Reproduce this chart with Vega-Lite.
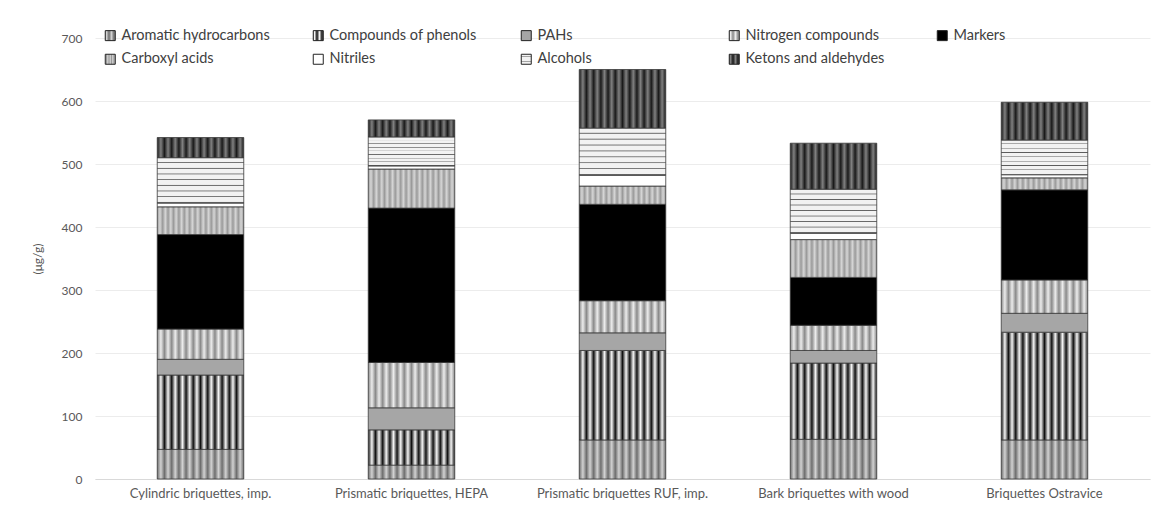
{
  "$schema": "https://vega.github.io/schema/vega-lite/v6.json",
  "width": 1055,
  "height": 441,
  "autosize": {"type": "none"},
  "padding": {"left": 95, "top": 38, "right": 3, "bottom": 36},
  "background": "white",
  "config": {
    "font": "Lato",
    "view": {"stroke": null},
    "axis": {"labelColor": "#595959", "titleColor": "#595959", "labelFont": "Lato", "titleFont": "Lato"}
  },
  "data": {
    "values": [
      {"sample": "Cylindric briquettes, imp.", "group": "Aromatic hydrocarbons", "k": 1, "value": 47},
      {"sample": "Cylindric briquettes, imp.", "group": "Compounds of phenols", "k": 2, "value": 118},
      {"sample": "Cylindric briquettes, imp.", "group": "PAHs", "k": 3, "value": 25},
      {"sample": "Cylindric briquettes, imp.", "group": "Nitrogen compounds", "k": 4, "value": 48},
      {"sample": "Cylindric briquettes, imp.", "group": "Markers", "k": 5, "value": 150},
      {"sample": "Cylindric briquettes, imp.", "group": "Carboxyl acids", "k": 6, "value": 44},
      {"sample": "Cylindric briquettes, imp.", "group": "Nitriles", "k": 7, "value": 6},
      {"sample": "Cylindric briquettes, imp.", "group": "Alcohols", "k": 8, "value": 72},
      {"sample": "Cylindric briquettes, imp.", "group": "Ketons and aldehydes", "k": 9, "value": 32},
      {"sample": "Prismatic briquettes, HEPA", "group": "Aromatic hydrocarbons", "k": 1, "value": 22},
      {"sample": "Prismatic briquettes, HEPA", "group": "Compounds of phenols", "k": 2, "value": 56},
      {"sample": "Prismatic briquettes, HEPA", "group": "PAHs", "k": 3, "value": 35},
      {"sample": "Prismatic briquettes, HEPA", "group": "Nitrogen compounds", "k": 4, "value": 72},
      {"sample": "Prismatic briquettes, HEPA", "group": "Markers", "k": 5, "value": 245},
      {"sample": "Prismatic briquettes, HEPA", "group": "Carboxyl acids", "k": 6, "value": 62},
      {"sample": "Prismatic briquettes, HEPA", "group": "Nitriles", "k": 7, "value": 5},
      {"sample": "Prismatic briquettes, HEPA", "group": "Alcohols", "k": 8, "value": 46},
      {"sample": "Prismatic briquettes, HEPA", "group": "Ketons and aldehydes", "k": 9, "value": 27},
      {"sample": "Prismatic briquettes RUF, imp.", "group": "Aromatic hydrocarbons", "k": 1, "value": 62},
      {"sample": "Prismatic briquettes RUF, imp.", "group": "Compounds of phenols", "k": 2, "value": 142},
      {"sample": "Prismatic briquettes RUF, imp.", "group": "PAHs", "k": 3, "value": 28},
      {"sample": "Prismatic briquettes RUF, imp.", "group": "Nitrogen compounds", "k": 4, "value": 51},
      {"sample": "Prismatic briquettes RUF, imp.", "group": "Markers", "k": 5, "value": 153},
      {"sample": "Prismatic briquettes RUF, imp.", "group": "Carboxyl acids", "k": 6, "value": 29},
      {"sample": "Prismatic briquettes RUF, imp.", "group": "Nitriles", "k": 7, "value": 17},
      {"sample": "Prismatic briquettes RUF, imp.", "group": "Alcohols", "k": 8, "value": 75},
      {"sample": "Prismatic briquettes RUF, imp.", "group": "Ketons and aldehydes", "k": 9, "value": 93},
      {"sample": "Bark briquettes with wood", "group": "Aromatic hydrocarbons", "k": 1, "value": 63},
      {"sample": "Bark briquettes with wood", "group": "Compounds of phenols", "k": 2, "value": 121},
      {"sample": "Bark briquettes with wood", "group": "PAHs", "k": 3, "value": 20},
      {"sample": "Bark briquettes with wood", "group": "Nitrogen compounds", "k": 4, "value": 40},
      {"sample": "Bark briquettes with wood", "group": "Markers", "k": 5, "value": 76},
      {"sample": "Bark briquettes with wood", "group": "Carboxyl acids", "k": 6, "value": 60},
      {"sample": "Bark briquettes with wood", "group": "Nitriles", "k": 7, "value": 10},
      {"sample": "Bark briquettes with wood", "group": "Alcohols", "k": 8, "value": 70},
      {"sample": "Bark briquettes with wood", "group": "Ketons and aldehydes", "k": 9, "value": 73},
      {"sample": "Briquettes Ostravice", "group": "Aromatic hydrocarbons", "k": 1, "value": 62},
      {"sample": "Briquettes Ostravice", "group": "Compounds of phenols", "k": 2, "value": 171},
      {"sample": "Briquettes Ostravice", "group": "PAHs", "k": 3, "value": 30},
      {"sample": "Briquettes Ostravice", "group": "Nitrogen compounds", "k": 4, "value": 53},
      {"sample": "Briquettes Ostravice", "group": "Markers", "k": 5, "value": 143},
      {"sample": "Briquettes Ostravice", "group": "Carboxyl acids", "k": 6, "value": 19},
      {"sample": "Briquettes Ostravice", "group": "Nitriles", "k": 7, "value": 5},
      {"sample": "Briquettes Ostravice", "group": "Alcohols", "k": 8, "value": 55},
      {"sample": "Briquettes Ostravice", "group": "Ketons and aldehydes", "k": 9, "value": 60}
    ]
  },
  "mark": {"type": "bar", "stroke": "#3a3a3a", "strokeWidth": 0.8},
  "encoding": {
    "x": {
      "field": "sample", "type": "nominal", "sort": null,
      "scale": {"paddingInner": 0.59, "paddingOuter": 0.295},
      "axis": {"title": null, "labelAngle": 0, "labelFontSize": 13, "labelPadding": 8, "ticks": false, "domainColor": "#d9d9d9", "domainWidth": 1, "labelLimit": 300}
    },
    "y": {
      "field": "value", "type": "quantitative", "aggregate": "sum",
      "scale": {"domain": [0, 700]},
      "axis": {"title": "(μg/g)", "values": [0, 100, 200, 300, 400, 500, 600, 700], "labelFontSize": 12, "labelPadding": 13, "ticks": false, "domain": false, "gridColor": "#ececec", "titleFontSize": 12, "titleFontWeight": "normal", "titlePadding": 17}
    },
    "order": {"field": "k", "type": "quantitative"},
    "color": {
      "field": "group", "type": "nominal",
      "scale": {
        "domain": ["Aromatic hydrocarbons", "Compounds of phenols", "PAHs", "Nitrogen compounds", "Markers", "Carboxyl acids", "Nitriles", "Alcohols", "Ketons and aldehydes"],
        "range": [
          {"expr": "{gradient:'linear',x1:0,y1:0,x2:1,y2:0,stops:[{offset:0,color:'#6e6e6e'},{offset:0.0417,color:'#d2d2d2'},{offset:0.0833,color:'#6e6e6e'},{offset:0.125,color:'#d2d2d2'},{offset:0.1667,color:'#6e6e6e'},{offset:0.2083,color:'#d2d2d2'},{offset:0.25,color:'#6e6e6e'},{offset:0.2917,color:'#d2d2d2'},{offset:0.3333,color:'#6e6e6e'},{offset:0.375,color:'#d2d2d2'},{offset:0.4167,color:'#6e6e6e'},{offset:0.4583,color:'#d2d2d2'},{offset:0.5,color:'#6e6e6e'},{offset:0.5417,color:'#d2d2d2'},{offset:0.5833,color:'#6e6e6e'},{offset:0.625,color:'#d2d2d2'},{offset:0.6667,color:'#6e6e6e'},{offset:0.7083,color:'#d2d2d2'},{offset:0.75,color:'#6e6e6e'},{offset:0.7917,color:'#d2d2d2'},{offset:0.8333,color:'#6e6e6e'},{offset:0.875,color:'#d2d2d2'},{offset:0.9167,color:'#6e6e6e'},{offset:0.9583,color:'#d2d2d2'},{offset:1,color:'#6e6e6e'}]}"},
          {"expr": "{gradient:'linear',x1:0,y1:0,x2:1,y2:0,stops:[{offset:0,color:'#111111'},{offset:0.0417,color:'#f5f5f5'},{offset:0.0833,color:'#111111'},{offset:0.125,color:'#f5f5f5'},{offset:0.1667,color:'#111111'},{offset:0.2083,color:'#f5f5f5'},{offset:0.25,color:'#111111'},{offset:0.2917,color:'#f5f5f5'},{offset:0.3333,color:'#111111'},{offset:0.375,color:'#f5f5f5'},{offset:0.4167,color:'#111111'},{offset:0.4583,color:'#f5f5f5'},{offset:0.5,color:'#111111'},{offset:0.5417,color:'#f5f5f5'},{offset:0.5833,color:'#111111'},{offset:0.625,color:'#f5f5f5'},{offset:0.6667,color:'#111111'},{offset:0.7083,color:'#f5f5f5'},{offset:0.75,color:'#111111'},{offset:0.7917,color:'#f5f5f5'},{offset:0.8333,color:'#111111'},{offset:0.875,color:'#f5f5f5'},{offset:0.9167,color:'#111111'},{offset:0.9583,color:'#f5f5f5'},{offset:1,color:'#111111'}]}"},
          "#a6a6a6",
          {"expr": "{gradient:'linear',x1:0,y1:0,x2:1,y2:0,stops:[{offset:0,color:'#8a8a8a'},{offset:0.0417,color:'#ececec'},{offset:0.0833,color:'#8a8a8a'},{offset:0.125,color:'#ececec'},{offset:0.1667,color:'#8a8a8a'},{offset:0.2083,color:'#ececec'},{offset:0.25,color:'#8a8a8a'},{offset:0.2917,color:'#ececec'},{offset:0.3333,color:'#8a8a8a'},{offset:0.375,color:'#ececec'},{offset:0.4167,color:'#8a8a8a'},{offset:0.4583,color:'#ececec'},{offset:0.5,color:'#8a8a8a'},{offset:0.5417,color:'#ececec'},{offset:0.5833,color:'#8a8a8a'},{offset:0.625,color:'#ececec'},{offset:0.6667,color:'#8a8a8a'},{offset:0.7083,color:'#ececec'},{offset:0.75,color:'#8a8a8a'},{offset:0.7917,color:'#ececec'},{offset:0.8333,color:'#8a8a8a'},{offset:0.875,color:'#ececec'},{offset:0.9167,color:'#8a8a8a'},{offset:0.9583,color:'#ececec'},{offset:1,color:'#8a8a8a'}]}"},
          "#000000",
          {"expr": "{gradient:'linear',x1:0,y1:0,x2:1,y2:0,stops:[{offset:0,color:'#9a9a9a'},{offset:0.03125,color:'#d6d6d6'},{offset:0.0625,color:'#9a9a9a'},{offset:0.09375,color:'#d6d6d6'},{offset:0.125,color:'#9a9a9a'},{offset:0.15625,color:'#d6d6d6'},{offset:0.1875,color:'#9a9a9a'},{offset:0.21875,color:'#d6d6d6'},{offset:0.25,color:'#9a9a9a'},{offset:0.28125,color:'#d6d6d6'},{offset:0.3125,color:'#9a9a9a'},{offset:0.34375,color:'#d6d6d6'},{offset:0.375,color:'#9a9a9a'},{offset:0.40625,color:'#d6d6d6'},{offset:0.4375,color:'#9a9a9a'},{offset:0.46875,color:'#d6d6d6'},{offset:0.5,color:'#9a9a9a'},{offset:0.53125,color:'#d6d6d6'},{offset:0.5625,color:'#9a9a9a'},{offset:0.59375,color:'#d6d6d6'},{offset:0.625,color:'#9a9a9a'},{offset:0.65625,color:'#d6d6d6'},{offset:0.6875,color:'#9a9a9a'},{offset:0.71875,color:'#d6d6d6'},{offset:0.75,color:'#9a9a9a'},{offset:0.78125,color:'#d6d6d6'},{offset:0.8125,color:'#9a9a9a'},{offset:0.84375,color:'#d6d6d6'},{offset:0.875,color:'#9a9a9a'},{offset:0.90625,color:'#d6d6d6'},{offset:0.9375,color:'#9a9a9a'},{offset:0.96875,color:'#d6d6d6'},{offset:1,color:'#9a9a9a'}]}"},
          "#ffffff",
          {"expr": "{gradient:'linear',x1:0,y1:0,x2:0,y2:1,stops:[{offset:0,color:'#f2f2f2'},{offset:0.09,color:'#f2f2f2'},{offset:0.11,color:'#555555'},{offset:0.125,color:'#f2f2f2'},{offset:0.215,color:'#f2f2f2'},{offset:0.235,color:'#555555'},{offset:0.25,color:'#f2f2f2'},{offset:0.34,color:'#f2f2f2'},{offset:0.36,color:'#555555'},{offset:0.375,color:'#f2f2f2'},{offset:0.465,color:'#f2f2f2'},{offset:0.485,color:'#555555'},{offset:0.5,color:'#f2f2f2'},{offset:0.59,color:'#f2f2f2'},{offset:0.61,color:'#555555'},{offset:0.625,color:'#f2f2f2'},{offset:0.715,color:'#f2f2f2'},{offset:0.735,color:'#555555'},{offset:0.75,color:'#f2f2f2'},{offset:0.84,color:'#f2f2f2'},{offset:0.86,color:'#555555'},{offset:0.875,color:'#f2f2f2'},{offset:0.965,color:'#f2f2f2'},{offset:0.985,color:'#555555'},{offset:1,color:'#f2f2f2'}]}"},
          {"expr": "{gradient:'linear',x1:0,y1:0,x2:1,y2:0,stops:[{offset:0,color:'#1a1a1a'},{offset:0.0417,color:'#808080'},{offset:0.0833,color:'#1a1a1a'},{offset:0.125,color:'#808080'},{offset:0.1667,color:'#1a1a1a'},{offset:0.2083,color:'#808080'},{offset:0.25,color:'#1a1a1a'},{offset:0.2917,color:'#808080'},{offset:0.3333,color:'#1a1a1a'},{offset:0.375,color:'#808080'},{offset:0.4167,color:'#1a1a1a'},{offset:0.4583,color:'#808080'},{offset:0.5,color:'#1a1a1a'},{offset:0.5417,color:'#808080'},{offset:0.5833,color:'#1a1a1a'},{offset:0.625,color:'#808080'},{offset:0.6667,color:'#1a1a1a'},{offset:0.7083,color:'#808080'},{offset:0.75,color:'#1a1a1a'},{offset:0.7917,color:'#808080'},{offset:0.8333,color:'#1a1a1a'},{offset:0.875,color:'#808080'},{offset:0.9167,color:'#1a1a1a'},{offset:0.9583,color:'#808080'},{offset:1,color:'#1a1a1a'}]}"}
        ]
      },
      "legend": {
        "title": null, "orient": "none", "legendX": 8, "legendY": -10,
        "direction": "horizontal", "columns": 5, "gridAlign": "all", "columnPadding": 41, "rowPadding": 8,
        "symbolType": "square", "symbolSize": 100, "symbolStrokeColor": "#222222", "symbolStrokeWidth": 1,
        "labelFontSize": 14.5, "labelColor": "#404040", "labelOffset": 4, "labelLimit": 250
      }
    }
  }
}
